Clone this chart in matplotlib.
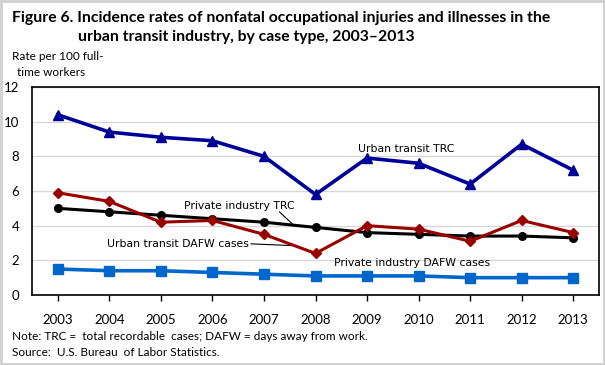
import matplotlib
matplotlib.use("Agg")
import matplotlib.pyplot as plt
from matplotlib.patches import Rectangle

years = [2003, 2004, 2005, 2006, 2007, 2008, 2009, 2010, 2011, 2012, 2013]
transit_trc = [10.4, 9.4, 9.1, 8.9, 8.0, 5.8, 7.9, 7.6, 6.4, 8.7, 7.2]
transit_dafw = [5.9, 5.4, 4.2, 4.3, 3.5, 2.4, 4.0, 3.8, 3.1, 4.3, 3.6]
private_trc = [5.0, 4.8, 4.6, 4.4, 4.2, 3.9, 3.6, 3.5, 3.4, 3.4, 3.3]
private_dafw = [1.5, 1.4, 1.4, 1.3, 1.2, 1.1, 1.1, 1.1, 1.0, 1.0, 1.0]
yticks = [0, 2, 4, 6, 8, 10, 12]

NARROW = ["Lato", "DejaVu Sans"]
TICKF = ["Lato", "DejaVu Sans"]
LABF = ["DejaVu Sans"]

fig = plt.figure(figsize=(6.05, 3.65), dpi=100)
ax = fig.add_axes([32 / 605, 1 - 295 / 365, 567 / 605, 208 / 365])

ax.plot(years, transit_trc, color="#000099", lw=2.6, marker="^", ms=7.5, zorder=5)
ax.plot(years, transit_dafw, color="#990000", lw=2.2, marker="D", ms=5.5, zorder=4)
ax.plot(years, private_trc, color="black", lw=2.2, marker="o", ms=5.5, zorder=3)
ax.plot(years, private_dafw, color="#0066cc", lw=2.6, marker="s", ms=7, zorder=4)

ax.set_xlim(2002.5, 2013.5)
ax.set_ylim(0, 12)
ax.set_xticks(years)
ax.set_yticks(yticks)
ax.grid(axis="y", color="#d8d8d8", lw=1)
ax.set_axisbelow(True)
ax.tick_params(axis="y", length=0, pad=9, labelsize=9.5)
ax.tick_params(axis="x", length=4, width=1, pad=10, labelsize=9.5)
for lab in ax.get_xticklabels() + ax.get_yticklabels():
    lab.set_family(TICKF)
for sp in ax.spines.values():
    sp.set_linewidth(1.2)

# series labels
ax.text(2008.83, 8.45, "Urban transit TRC", fontsize=7.8, family=LABF, va="center")
ax.text(2005.45, 5.15, "Private industry TRC", fontsize=7.8, family=LABF, va="center")
ax.plot([2007.3, 2007.55], [4.8, 4.1], color="black", lw=0.8)
ax.text(2003.95, 2.95, "Urban transit DAFW cases", fontsize=7.8, family=LABF, va="center")
ax.plot([2006.75, 2007.55], [2.95, 2.85], color="black", lw=0.8)
ax.text(2008.35, 1.85, "Private industry DAFW cases", fontsize=7.8, family=LABF, va="center")

# titles and notes
fig.text(12 / 605, 1 - 18 / 365, "Figure 6. Incidence rates of nonfatal occupational injuries and illnesses in the",
         fontsize=11.3, fontweight="bold", family=NARROW, va="center")
fig.text(78 / 605, 1 - 37 / 365, "urban transit industry, by case type, 2003\u20132013",
         fontsize=11.3, fontweight="bold", family=NARROW, va="center")
fig.text(12 / 605, 1 - 57 / 365, "Rate per 100 full-", fontsize=8.5, family=NARROW, va="center")
fig.text(17 / 605, 1 - 72 / 365, "time workers", fontsize=8.5, family=NARROW, va="center")
fig.text(12 / 605, 1 - 336 / 365, "Note: TRC =  total recordable  cases; DAFW = days away from work.",
         fontsize=8.5, family=NARROW, va="center")
fig.text(12 / 605, 1 - 352 / 365, "Source:  U.S. Bureau  of Labor Statistics.",
         fontsize=8.5, family=NARROW, va="center")

fig.patches.append(Rectangle((0.002, 0.003), 0.996, 0.994, transform=fig.transFigure,
                             fill=False, edgecolor="#cfcfcf", lw=2))

fig.savefig("out.png", dpi=100)
